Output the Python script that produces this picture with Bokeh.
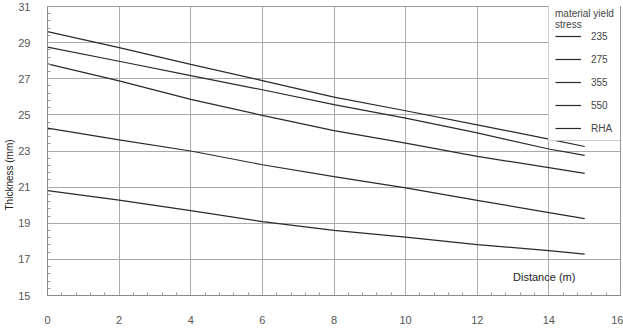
from bokeh.plotting import figure
from bokeh.models import Legend, LegendItem, Label, FixedTicker, Range1d, Title
from bokeh.embed import file_html
from bokeh.resources import INLINE

distance = [0, 2, 4, 6, 8, 10, 12, 14, 15]
t_235 = [29.61, 28.72, 27.80, 26.90, 25.98, 25.23, 24.45, 23.66, 23.25]
t_275 = [28.75, 27.97, 27.17, 26.39, 25.57, 24.82, 24.00, 23.11, 22.76]
t_355 = [27.82, 26.88, 25.86, 24.97, 24.13, 23.44, 22.70, 22.08, 21.76]
t_550 = [24.27, 23.62, 23.00, 22.24, 21.58, 20.96, 20.27, 19.59, 19.26]
t_rha = [20.81, 20.28, 19.70, 19.09, 18.61, 18.23, 17.82, 17.48, 17.29]
series_names = ["235", "275", "355", "550", "RHA"]
series = [t_235, t_275, t_355, t_550, t_rha]
x_ticks = [0, 2, 4, 6, 8, 10, 12, 14, 16]
y_ticks = [15, 17, 19, 21, 23, 25, 27, 29, 31]
legend_title = "material yield\nstress"
x_title = "Distance (m)"
y_title = "Thickness (mm)"

FONT = "Liberation Sans"

def minors(ticks, n=5):
    out = []
    for a, b in zip(ticks[:-1], ticks[1:]):
        step = (b - a) / n
        out += [a + step * k for k in range(1, n)]
    return out

p = figure(width=623, height=328, output_backend="svg", toolbar_location=None,
           x_range=Range1d(0, 16), y_range=Range1d(15, 31),
           min_border_left=47, min_border_right=3, min_border_top=6, min_border_bottom=33)
p.outline_line_color = "#999999"
p.background_fill_color = "white"
p.border_fill_color = "white"

p.xaxis[0].ticker = FixedTicker(ticks=x_ticks, minor_ticks=minors(x_ticks))
p.yaxis[0].ticker = FixedTicker(ticks=y_ticks, minor_ticks=minors(y_ticks))
for ax in (p.xaxis[0], p.yaxis[0]):
    ax.axis_line_color = "#888888"
    ax.major_tick_line_color = None
    ax.major_tick_in = 0
    ax.major_tick_out = 0
    ax.minor_tick_line_color = "#999999"
    ax.minor_tick_in = 3
    ax.minor_tick_out = 0
    ax.major_label_text_font = FONT
    ax.major_label_text_font_size = "11px"
    ax.major_label_text_color = "#555555"

p.xaxis.major_label_standoff = 20
p.yaxis.major_label_standoff = 17

p.xgrid.ticker = p.xaxis[0].ticker
p.ygrid.ticker = p.yaxis[0].ticker
p.grid.grid_line_color = "#aaaaaa"
p.grid.grid_line_width = 1

items = []
for name, vals in zip(series_names, series):
    r = p.line(distance, vals, line_color="#2a2a2a", line_width=1.2)
    items.append(LegendItem(label=name, renderers=[r]))

legend = Legend(items=items, location=(501, 154), title=legend_title,
                title_text_font=FONT, title_text_font_size="10px", title_text_color="#444444",
                title_text_font_style="normal", title_standoff=0,
                label_text_font=FONT, label_text_font_size="10px", label_text_color="#444444",
                glyph_width=26, glyph_height=12, label_height=12, spacing=11,
                label_standoff=10, padding=6, margin=0,
                border_line_color="#999999", background_fill_color="white", background_fill_alpha=1.0)
p.add_layout(legend, "center")

p.add_layout(Label(x=13.87, y=16.0, text=x_title, text_align="center", text_baseline="middle",
                   text_font=FONT, text_font_size="11px", text_color="#222222"))
p.add_layout(Title(text=y_title, align="left", offset=85, standoff=0, vertical_align="middle",
                   text_font=FONT, text_font_size="10px", text_font_style="normal",
                   text_color="#222222"), "left")

open("out.html", "w").write(file_html(p, INLINE))
